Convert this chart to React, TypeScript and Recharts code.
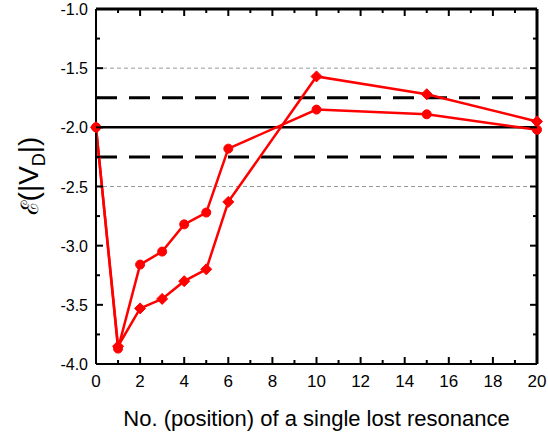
import { LineChart, Line, XAxis, YAxis, ReferenceLine } from 'recharts'

const positions = [0, 1, 2, 3, 4, 5, 6, 10, 15, 20]
const circleSeries = [-2.0, -3.87, -3.16, -3.05, -2.82, -2.72, -2.18, -1.85, -1.89, -2.02]
const diamondSeries = [-2.0, -3.85, -3.53, -3.45, -3.3, -3.2, -2.63, -1.57, -1.72, -1.95]

const xTicks = [0, 1, 2, 3, 4, 5, 6, 7, 8, 9, 10, 11, 12, 13, 14, 15, 16, 17, 18, 19, 20]
const yTicks = [-4, -3.75, -3.5, -3.25, -3, -2.75, -2.5, -2.25, -2, -1.75, -1.5, -1.25, -1]

const data = positions.map((x, i) => ({ x, circ: circleSeries[i], diam: diamondSeries[i] }))

const RED = '#ff0000'
const INK = '#000'
const FONT = 'Arial, "Liberation Sans", sans-serif'

// plot box size, used to mirror the tick marks onto the top and right edges
const W = 548
const H = 432
const M = { top: 9, right: 11, left: 96, bottom: 68 }
const PLOT_W = W - M.left - M.right
const PLOT_H = H - M.top - M.bottom

function BottomTick(props: any) {
  const { x, y, payload } = props
  const len = payload.value % 2 === 0 ? 7 : 4
  const top = y - PLOT_H
  return (
    <g>
      <line x1={x} x2={x} y1={y} y2={y - len} stroke={INK} strokeWidth={2} />
      <line x1={x} x2={x} y1={top} y2={top + len} stroke={INK} strokeWidth={2} />
      {len === 7 && (
        <text x={x} y={y + 23} textAnchor="middle" fontSize={17} fontFamily={FONT} fill="#000">
          {payload.value}
        </text>
      )}
    </g>
  )
}

function LeftTick(props: any) {
  const { x, y, payload } = props
  const major = Math.abs(payload.value * 2 - Math.round(payload.value * 2)) < 1e-6
  const len = major ? 7 : 4
  const right = x + PLOT_W
  return (
    <g>
      <line x1={x} x2={x + len} y1={y} y2={y} stroke={INK} strokeWidth={2} />
      <line x1={right} x2={right - len} y1={y} y2={y} stroke={INK} strokeWidth={2} />
      {major && (
        <text x={x - 8} y={y + 6} textAnchor="end" fontSize={16} fontFamily={FONT} fill="#000">
          {payload.value.toFixed(1)}
        </text>
      )}
    </g>
  )
}

function YLabel() {
  return (
    <text
      transform="translate(38, 176) rotate(-90)"
      textAnchor="middle"
      fontSize={28}
      fontFamily={FONT}
      fill="#000"
    >
      <tspan fontSize={24}>ℰ</tspan>
      <tspan>(|V</tspan>
      <tspan fontSize={18} dy={7}>D</tspan>
      <tspan dy={-7}>|)</tspan>
    </text>
  )
}

function Diamond(props: any) {
  const { cx, cy } = props
  if (cx == null || cy == null) return null
  const s = 5.5
  return <path d={`M${cx},${cy - s}L${cx + s},${cy}L${cx},${cy + s}L${cx - s},${cy}Z`} fill={RED} stroke={RED} />
}

export default function App() {
  return (
    <div style={{ position: 'absolute', left: 0, top: 0, width: W, height: H, background: '#fff' }}>
      <LineChart width={W} height={H} data={data} margin={{ top: M.top, right: M.right, bottom: 0, left: 0 }}>
        <XAxis
          dataKey="x"
          type="number"
          domain={[0, 20]}
          ticks={xTicks}
          interval={0}
          height={M.bottom}
          tickSize={0}
          tickMargin={0}
          tick={<BottomTick />}
          tickLine={false}
          axisLine={{ stroke: INK, strokeWidth: 2 }}
          label={{
            value: 'No. (position) of a single lost resonance',
            position: 'insideBottom',
            offset: 6,
            fontSize: 22,
            fontFamily: FONT,
            fill: '#000',
          }}
        />
        <YAxis
          type="number"
          domain={[-4, -1]}
          ticks={yTicks}
          interval={0}
          width={M.left}
          tickSize={0}
          tickMargin={0}
          tick={<LeftTick />}
          tickLine={false}
          axisLine={{ stroke: INK, strokeWidth: 2 }}
          label={{ content: <YLabel /> }}
        />
        <ReferenceLine y={-1.5} stroke="#999" strokeWidth={1} strokeDasharray="4 3" />
        <ReferenceLine y={-2.5} stroke="#999" strokeWidth={1} strokeDasharray="4 3" />
        <ReferenceLine y={-1.75} stroke="#000" strokeWidth={3} strokeDasharray="21 12" />
        <ReferenceLine y={-2.25} stroke="#000" strokeWidth={3} strokeDasharray="21 12" />
        <ReferenceLine y={-2} stroke="#000" strokeWidth={2.5} />
        <ReferenceLine y={-1} stroke={INK} strokeWidth={3} ifOverflow="visible" />
        <ReferenceLine x={20} stroke={INK} strokeWidth={3} ifOverflow="visible" />
        <Line
          dataKey="diam"
          stroke={RED}
          strokeWidth={2.5}
          dot={<Diamond />}
          activeDot={false}
          isAnimationActive={false}
        />
        <Line
          dataKey="circ"
          stroke={RED}
          strokeWidth={2.5}
          dot={{ r: 4.5, fill: RED, stroke: RED, strokeWidth: 1 }}
          activeDot={false}
          isAnimationActive={false}
        />
      </LineChart>
    </div>
  )
}
